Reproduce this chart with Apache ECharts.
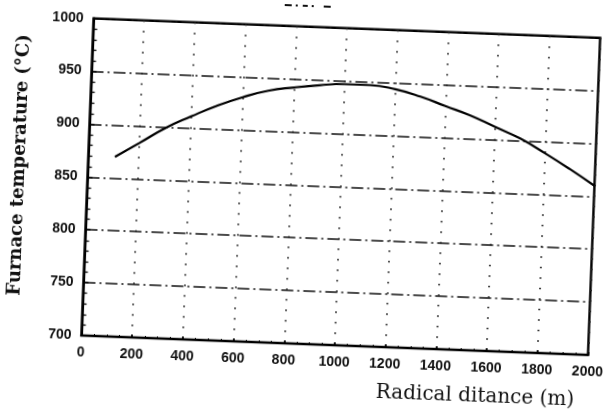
<!DOCTYPE html>
<html>
<head>
<meta charset="utf-8">
<script src="https://cdn.jsdelivr.net/npm/echarts@6/dist/echarts.min.js"></script>
<style>
  html, body { margin: 0; padding: 0; background: #fff; overflow: hidden; }
  #chart { width: 612px; height: 415px; transform: rotate(2.2deg); transform-origin: 50% 50%; }
</style>
</head>
<body>
<div id="chart"></div>
<script>
// Radial distance from the furnace centre (m)
const distance = [105, 200, 300, 400, 500, 600, 700, 800, 900, 1000,
                  1100, 1200, 1300, 1400, 1500, 1600, 1700, 1800, 1900, 2000];
// Furnace temperature profile (°C)
const temperature = [870, 884, 899, 911, 922, 931, 938, 942, 945, 947,
                     947, 944, 938, 930, 922, 912, 902, 889, 875, 860];

const xRange = [0, 2000];
const yRange = [700, 1000];
const xTitle = 'Radical ditance (m)';
const yTitle = 'Furnace temperature (°C)';

const chart = echarts.init(document.getElementById('chart'), null, { renderer: 'canvas' });

const tickFont = { color: '#111', fontFamily: 'Liberation Sans', fontWeight: 'bold', fontSize: 14 };
const plain = v => String(v);

chart.setOption({
  animation: false,
  backgroundColor: '#fff',
  grid: {
    left: 86.5, right: 12, top: 26.7, bottom: 71,
    show: true, borderColor: '#000', borderWidth: 2.4, backgroundColor: 'transparent'
  },
  xAxis: {
    type: 'value',
    min: xRange[0], max: xRange[1], interval: 200,
    axisLine: { show: true, lineStyle: { color: '#000', width: 2.2 } },
    axisTick: { show: true, inside: true, length: 3, lineStyle: { color: '#000', width: 1.5 } },
    minorTick: { show: true, splitNumber: 4, length: 2, lineStyle: { color: '#000', width: 1 } },
    axisLabel: Object.assign({ margin: 10, formatter: plain }, tickFont),
    splitLine: { show: true, lineStyle: { color: '#222', width: 1.8, type: [1.5, 9] } }
  },
  yAxis: {
    type: 'value',
    min: yRange[0], max: yRange[1], interval: 50,
    axisLine: { show: true, lineStyle: { color: '#000', width: 2.2 } },
    axisTick: { show: true, inside: true, length: 5, lineStyle: { color: '#000', width: 1.5 } },
    minorTick: { show: true, splitNumber: 5, length: 4, lineStyle: { color: '#000', width: 1.3 } },
    axisLabel: Object.assign({ margin: 10, formatter: plain }, tickFont),
    splitLine: { show: true, lineStyle: { color: '#111', width: 1.5, type: [12, 4, 2, 4] } }
  },
  graphic: [
    {
      type: 'text', x: 18.6, y: 176, rotation: Math.PI / 2,
      style: { text: yTitle, font: 'bold 18px "DejaVu Serif"', fill: '#111', align: 'center', verticalAlign: 'middle' }
    },
    {
      type: 'text', x: 482, y: 389.5,
      style: { text: xTitle, font: '20px "DejaVu Serif"', fill: '#111', align: 'center', verticalAlign: 'middle' }
    },
    {
      type: 'line', shape: { x1: 277, y1: 6, x2: 325, y2: 6 },
      style: { stroke: '#111', lineWidth: 2, lineDash: [7, 4, 2, 5, 5, 4, 2, 10] }
    }
  ],
  series: [{
    type: 'line',
    data: distance.map((d, i) => [d, temperature[i]]),
    smooth: true,
    showSymbol: false,
    lineStyle: { color: '#000', width: 2.2 }
  }]
});
</script>
</body>
</html>
